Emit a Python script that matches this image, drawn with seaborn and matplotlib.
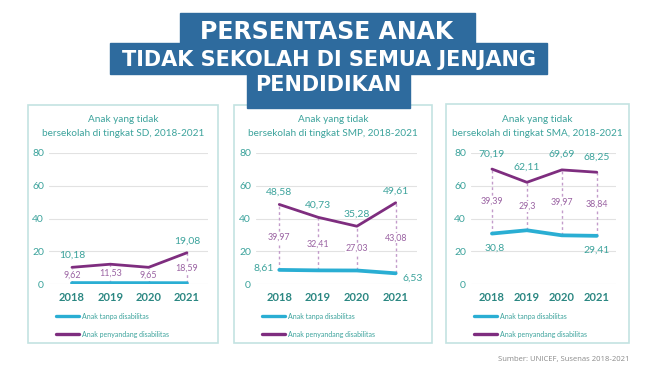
import matplotlib
matplotlib.use("Agg")
import matplotlib.pyplot as plt
import pandas as pd
import seaborn as sns
from matplotlib.patches import Rectangle
from matplotlib.lines import Line2D

sns.set_style("white")
plt.rcParams['font.family'] = ['Lato', 'DejaVu Sans']

# data
years = [2018, 2019, 2020, 2021]
sd_disab = [10.18, 12.08, 10.18, 19.08]
sd_tanpa = [0.56, 0.55, 0.53, 0.49]
smp_disab = [48.58, 40.73, 35.28, 49.61]
smp_tanpa = [8.61, 8.32, 8.25, 6.53]
sma_disab = [70.19, 62.11, 69.69, 68.25]
sma_tanpa = [30.80, 32.81, 29.72, 29.41]
levels = ['SD', 'SMP', 'SMA']
series_names = ['Anak tanpa disabilitas', 'Anak penyandang disabilitas']
yticks = [0, 20, 40, 60, 80]

BLUE = '#2aaed3'
PURPLE = '#7e2d7f'
TEAL = '#3ca39c'
DARKTEAL = '#2b8782'
DIFF = '#9a62a2'
BANNER = '#2e6b9e'

W, H = 653, 366
fig = plt.figure(figsize=(W / 100, H / 100), dpi=100)


def fx(x):
    return x / W


def fy(y):
    return 1 - y / H


def fmt(v):
    return f"{round(v, 2):g}".replace('.', ',')


# banner
for (x0, y0, x1, y1) in [(180, 13, 475, 44), (110, 43, 547, 74), (247, 73, 410, 108)]:
    fig.add_artist(Rectangle((fx(x0), fy(y1)), fx(x1 - x0), (y1 - y0) / H,
                             transform=fig.transFigure, color=BANNER, zorder=5))
fig.text(fx(327), fy(32), 'PERSENTASE ANAK', ha='center', va='center', color='white',
         fontsize=17, fontweight='bold', family='DejaVu Sans', zorder=6)
fig.text(fx(329), fy(60.5), 'TIDAK SEKOLAH DI SEMUA JENJANG', ha='center', va='center',
         color='white', fontsize=15, fontweight='bold', family='DejaVu Sans', zorder=6)
fig.text(fx(328), fy(85), 'PENDIDIKAN', ha='center', va='center', color='white',
         fontsize=15, fontweight='bold', family='DejaVu Sans', zorder=6)

panels = [
    dict(level='SD', disab=sd_disab, tanpa=sd_tanpa, box=(28, 105, 218, 343), ax=(49, 208),
         top=[True, False, False, True], top_off=8.6, low={}),
    dict(level='SMP', disab=smp_disab, tanpa=smp_tanpa, box=(234, 105, 432, 343), ax=(256, 417),
         top=[True, True, True, True], top_off=8.6, low={0: (-11.5, 1.0), 3: (12.5, -3.6)}),
    dict(level='SMA', disab=sma_disab, tanpa=sma_tanpa, box=(446, 104, 629, 343), ax=(471, 616),
         top=[True, True, True, True], top_off=11, low={0: (2, -10.8), 3: (0, -10.2)}),
]

ax_top, ax_bot = 153, 284

for p in panels:
    bx0, by0, bx1, by1 = p['box']
    fig.add_artist(Rectangle((fx(bx0), fy(by1)), fx(bx1 - bx0), (by1 - by0) / H,
                             transform=fig.transFigure, fill=False, edgecolor='#c3e3e2',
                             lw=1.2, zorder=1))
    cx = (bx0 + bx1) / 2
    fig.text(fx(cx), fy(119), 'Anak yang tidak', ha='center', va='center', color=TEAL,
             fontsize=7.2)
    fig.text(fx(cx), fy(134), f"bersekolah di tingkat {p['level']}, 2018-2021",
             ha='center', va='center', color=TEAL, fontsize=7.2)

    a0, a1 = p['ax']
    ax = fig.add_axes([fx(a0), fy(ax_bot), fx(a1 - a0), (ax_bot - ax_top) / H])
    df = pd.DataFrame({
        'Tahun': years * 2,
        'Persen': p['tanpa'] + p['disab'],
        'Kelompok': [series_names[0]] * 4 + [series_names[1]] * 4,
    })
    ax.vlines(years, p['tanpa'], p['disab'], colors='#c39ccb', linestyles=(0, (2, 2)),
              lw=1, zorder=1)
    sns.lineplot(data=df, x='Tahun', y='Persen', hue='Kelompok', hue_order=series_names,
                 palette=[BLUE, PURPLE], ax=ax, legend=False, zorder=3)
    ax.lines[-2].set_linewidth(2.7)
    ax.lines[-1].set_linewidth(2.0)

    for i, yr in enumerate(years):
        d = p['disab'][i]
        t = p['tanpa'][i]
        if p['top'][i]:
            ax.annotate(fmt(d), (yr, d), xytext=(0, p['top_off']), textcoords='offset points',
                        ha='center', va='center', color=TEAL, fontsize=7.5, annotation_clip=False)
        ax.annotate(fmt(d - t), (yr, (d + t) / 2), ha='center', va='center', color=DIFF,
                    fontsize=6.4, zorder=4,
                    bbox=dict(boxstyle='square,pad=0.1', fc='white', ec='none'))
        if i in p['low']:
            ax.annotate(fmt(t), (yr, t), xytext=p['low'][i], textcoords='offset points',
                        ha='center', va='center', color=TEAL, fontsize=7.5, annotation_clip=False)

    ax.set_xlim(2017.4, 2021.55)
    ax.set_ylim(0, 80)
    ax.set_xticks(years)
    ax.set_xticklabels([str(y) for y in years], color=DARKTEAL, fontsize=8, fontweight='bold')
    ax.set_yticks(yticks)
    ax.set_yticklabels([str(v) for v in yticks], color=TEAL, fontsize=7.5)
    ax.tick_params(axis='x', length=0, pad=6)
    ax.tick_params(axis='y', length=0, pad=3.6)
    ax.grid(axis='y', color='#e2e2e2', lw=0.8)
    ax.set_axisbelow(True)
    ax.set_xlabel('')
    ax.set_ylabel('')
    for s in ax.spines.values():
        s.set_visible(False)
    ax.patch.set_alpha(0)

    # legend
    lx = bx0 + 28
    for ly, col, name in [(316, BLUE, series_names[0]), (334, PURPLE, series_names[1])]:
        fig.add_artist(Line2D([fx(lx), fx(lx + 23)], [fy(ly), fy(ly)], color=col, lw=2.4,
                              transform=fig.transFigure))
        fig.text(fx(lx + 26), fy(ly), name, ha='left', va='center', color=TEAL, fontsize=5)

fig.text(fx(630), fy(360), 'Sumber: UNICEF, Susenas 2018-2021', ha='right', va='center',
         color='#8a8a8a', fontsize=5.5, family='Open Sans')

fig.savefig('out.png', dpi=100)
